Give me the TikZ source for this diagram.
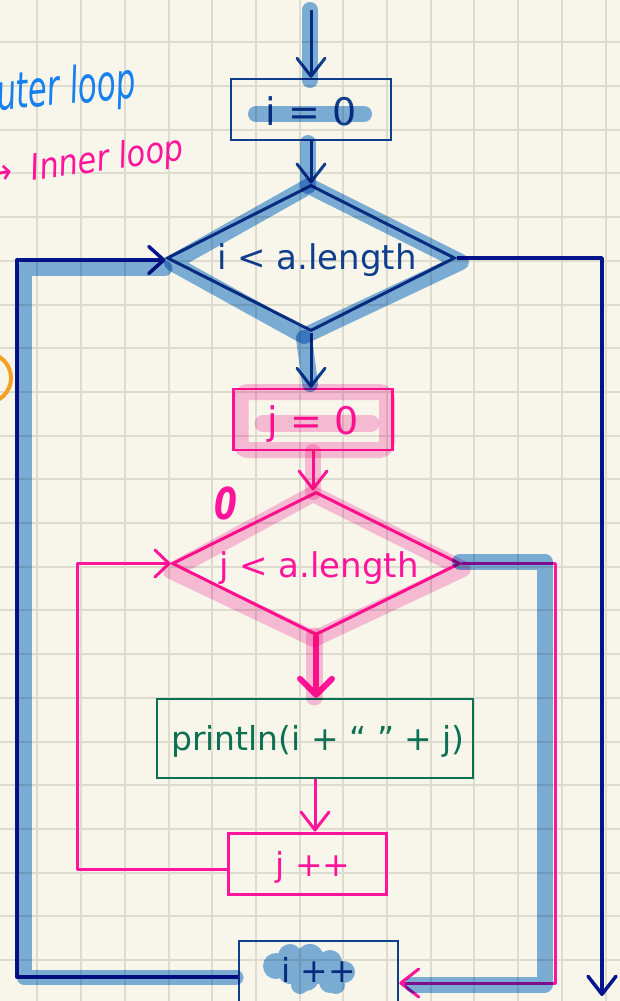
\documentclass[tikz,border=0pt]{standalone}
\usepackage{fontspec}
\setmainfont{DejaVu Sans}[ItalicFont={DejaVu Sans Oblique},BoldItalicFont={DejaVu Sans Bold Oblique}]
\usetikzlibrary{arrows.meta,shapes.geometric}
\definecolor{bgc}{RGB}{248,246,234}
\definecolor{gridc}{RGB}{222,220,206}
\definecolor{navy}{RGB}{14,62,140}
\definecolor{dnavy}{RGB}{4,20,140}
\definecolor{pinkc}{RGB}{255,20,155}
\definecolor{greenc}{RGB}{12,112,84}
\definecolor{hblue}{RGB}{125,178,231}
\definecolor{hpink}{RGB}{252,192,229}
\definecolor{penblue}{RGB}{22,128,240}
\definecolor{orangec}{RGB}{245,160,35}
\newcommand\fsA{\fontsize{33pt}{40pt}\selectfont}
\newcommand\fsC{\fontsize{34pt}{40pt}\selectfont}
\newcommand\fsB{\fontsize{38pt}{46pt}\selectfont}
\begin{document}
\begin{tikzpicture}[x=1pt,y=-1pt,
  boxn/.style={rectangle, inner sep=0pt, line width=2.5pt},
  dia/.style={diamond, aspect=2, inner sep=0pt, line width=3pt},
  barb/.style={-{Straight Barb[length=18pt,width=28pt,round]}},
  hl/.style={line width=16pt, line cap=round, line join=round},
  conn/.style={line width=3pt, line join=round, barb},
]
\useasboundingbox (0,0) rectangle (620,1001);
\clip (0,0) rectangle (620,1001);
\fill[bgc] (0,0) rectangle (620,1001);
\foreach \i in {0,...,13} \draw[gridc,line width=2pt] ({37.4+43.7*\i},0) -- ({37.4+43.7*\i},1001);
\foreach \j in {1,...,23} \draw[gridc,line width=2pt] (0,{-1.4+43.7*\j}) -- (620,{-1.4+43.7*\j});

% handwritten notes
\node[text=penblue, font=\fontsize{50pt}{56pt}\selectfont\itshape, rotate=5, xscale=0.62, anchor=base west, inner sep=0pt] (h1) at (-21,112) {outer loop};
\node[text=pinkc, font=\fontsize{36pt}{40pt}\selectfont\itshape, rotate=8, xscale=0.85, anchor=base west, inner sep=0pt] (h2) at (-11.5,187) {→ \kern10pt Inner loop};
\draw[orangec, line width=4pt] (-14,378) circle (25);
\node[text=pinkc, font=\fontsize{44pt}{50pt}\selectfont\bfseries\itshape, xscale=0.75, inner sep=0pt] (h3) at (226,503) {0};

% nodes
\node[boxn, draw=navy, text=navy, font=\fsB, minimum width=160pt, minimum height=61pt, text height=31pt, text depth=0pt] (b1) at (311,109.5) {i = 0};
\node[dia, draw=navy, text=navy, font=\fsC, minimum width=288pt, minimum height=146pt, text height=22pt, text depth=0pt] (d1) at (311,258) {\kern12pt i < a.length};
\node[boxn, draw=pinkc, text=pinkc, font=\fsB, minimum width=159pt, minimum height=61pt, text height=29pt, text depth=0pt] (b2) at (313,419.5) {j = 0};
\node[dia, draw=pinkc, text=pinkc, font=\fsC, minimum width=288pt, minimum height=143pt, text height=28pt, text depth=0pt] (d2) at (316,563.5) {\kern6pt j < a.length};
\node[boxn, draw=greenc, text=greenc, font=\fsA, minimum width=316pt, minimum height=79pt, text height=23pt, text depth=0pt] (b3) at (315,738.5) {\kern6pt println(i + “ ” + j)};
\node[boxn, draw=pinkc, text=pinkc, font=\fsA, line width=3pt, minimum width=158pt, minimum height=61pt, text height=25pt, text depth=0pt] (b4) at (307,863.5) {\kern12pt j ++};
\node[boxn, draw=navy, text=navy, font=\fsA, minimum width=159pt, minimum height=64pt, text height=18pt, text depth=0pt] (b5) at (318.5,973) {i ++};

\coordinate (s0) at (311,10);
\coordinate (e1) at (602,996);

% connectors
\draw[navy, conn] (s0) -- (b1.north);
\draw[navy, conn] (b1.south) -- (d1.north);
\draw[navy, conn] (d1.south) -- (d1.south |- b2.north);
\draw[pinkc, conn] (b2.south) -- (b2.south |- d2.north);
\draw[pinkc, line width=6pt, line cap=round, -{Straight Barb[length=16pt,width=32pt,round]}] (d2.south) -- (d2.south |- b3.north);
\draw[pinkc, conn] (b3.south) -- (b3.south |- b4.north);
\draw[pinkc, conn, -{Straight Barb[length=14pt,width=27pt,round]}] ([yshift=-6pt]b4.west) -- ++(-149,0) |- (d2.west);
\draw[pinkc, conn] (d2.east) -- ++(94,0) |- ([yshift=-10pt]b5.east);
\draw[dnavy, conn, line width=3.5pt] (d1.east) -| (e1);
\draw[dnavy, conn, line width=3.5pt, -{Straight Barb[length=15pt,width=27pt,round]}] ([yshift=-4pt]b5.west) -- ++(-221,0) |- ([yshift=-2pt]d1.west);

% highlighter strokes
\begin{scope}[blend mode=multiply]
\draw[hblue, hl] (310,10) -- (310,80);
\draw[hblue, hl] (308,143) -- (308,186);
\draw[hblue, hl] (309,186) -- (172,263) -- (304,336) -- (461,262) -- cycle;
\draw[hblue, hl] (304,338) -- (310,384);
\draw[hblue, hl] (256,114) -- (364,114);
\draw[hblue, hl, line width=15pt] (236,977.5) -- (24,977.5) -- (24,268) -- (165,268);
\draw[hblue, hl] (460,561.5) -- (544.5,561.5) -- (544.5,984.5) -- (413,984.5);
\fill[hblue] (276,966) circle (13) (290,956) circle (12) (310,958) circle (14) (330,962) circle (12) (344,972) circle (11) (330,982) circle (11) (306,978) circle (13) (290,972) circle (12) (318,970) circle (14) (300,985) circle (9) (336,985) circle (9);
\draw[hpink, line width=16pt, rounded corners=8pt] (240.5,392) rectangle (387,450);
\draw[hpink, line width=17pt, line cap=round] (263,423.5) -- (371,423.5);
\draw[hpink, hl] (313,452) -- (313,492);
\draw[hpink, hl] (313,494) -- (171,571) -- (314,639) -- (463,569) -- cycle;
\draw[hpink, line width=17pt, line cap=round] (314,636) -- (314,697);
\end{scope}
\end{tikzpicture}
\end{document}
